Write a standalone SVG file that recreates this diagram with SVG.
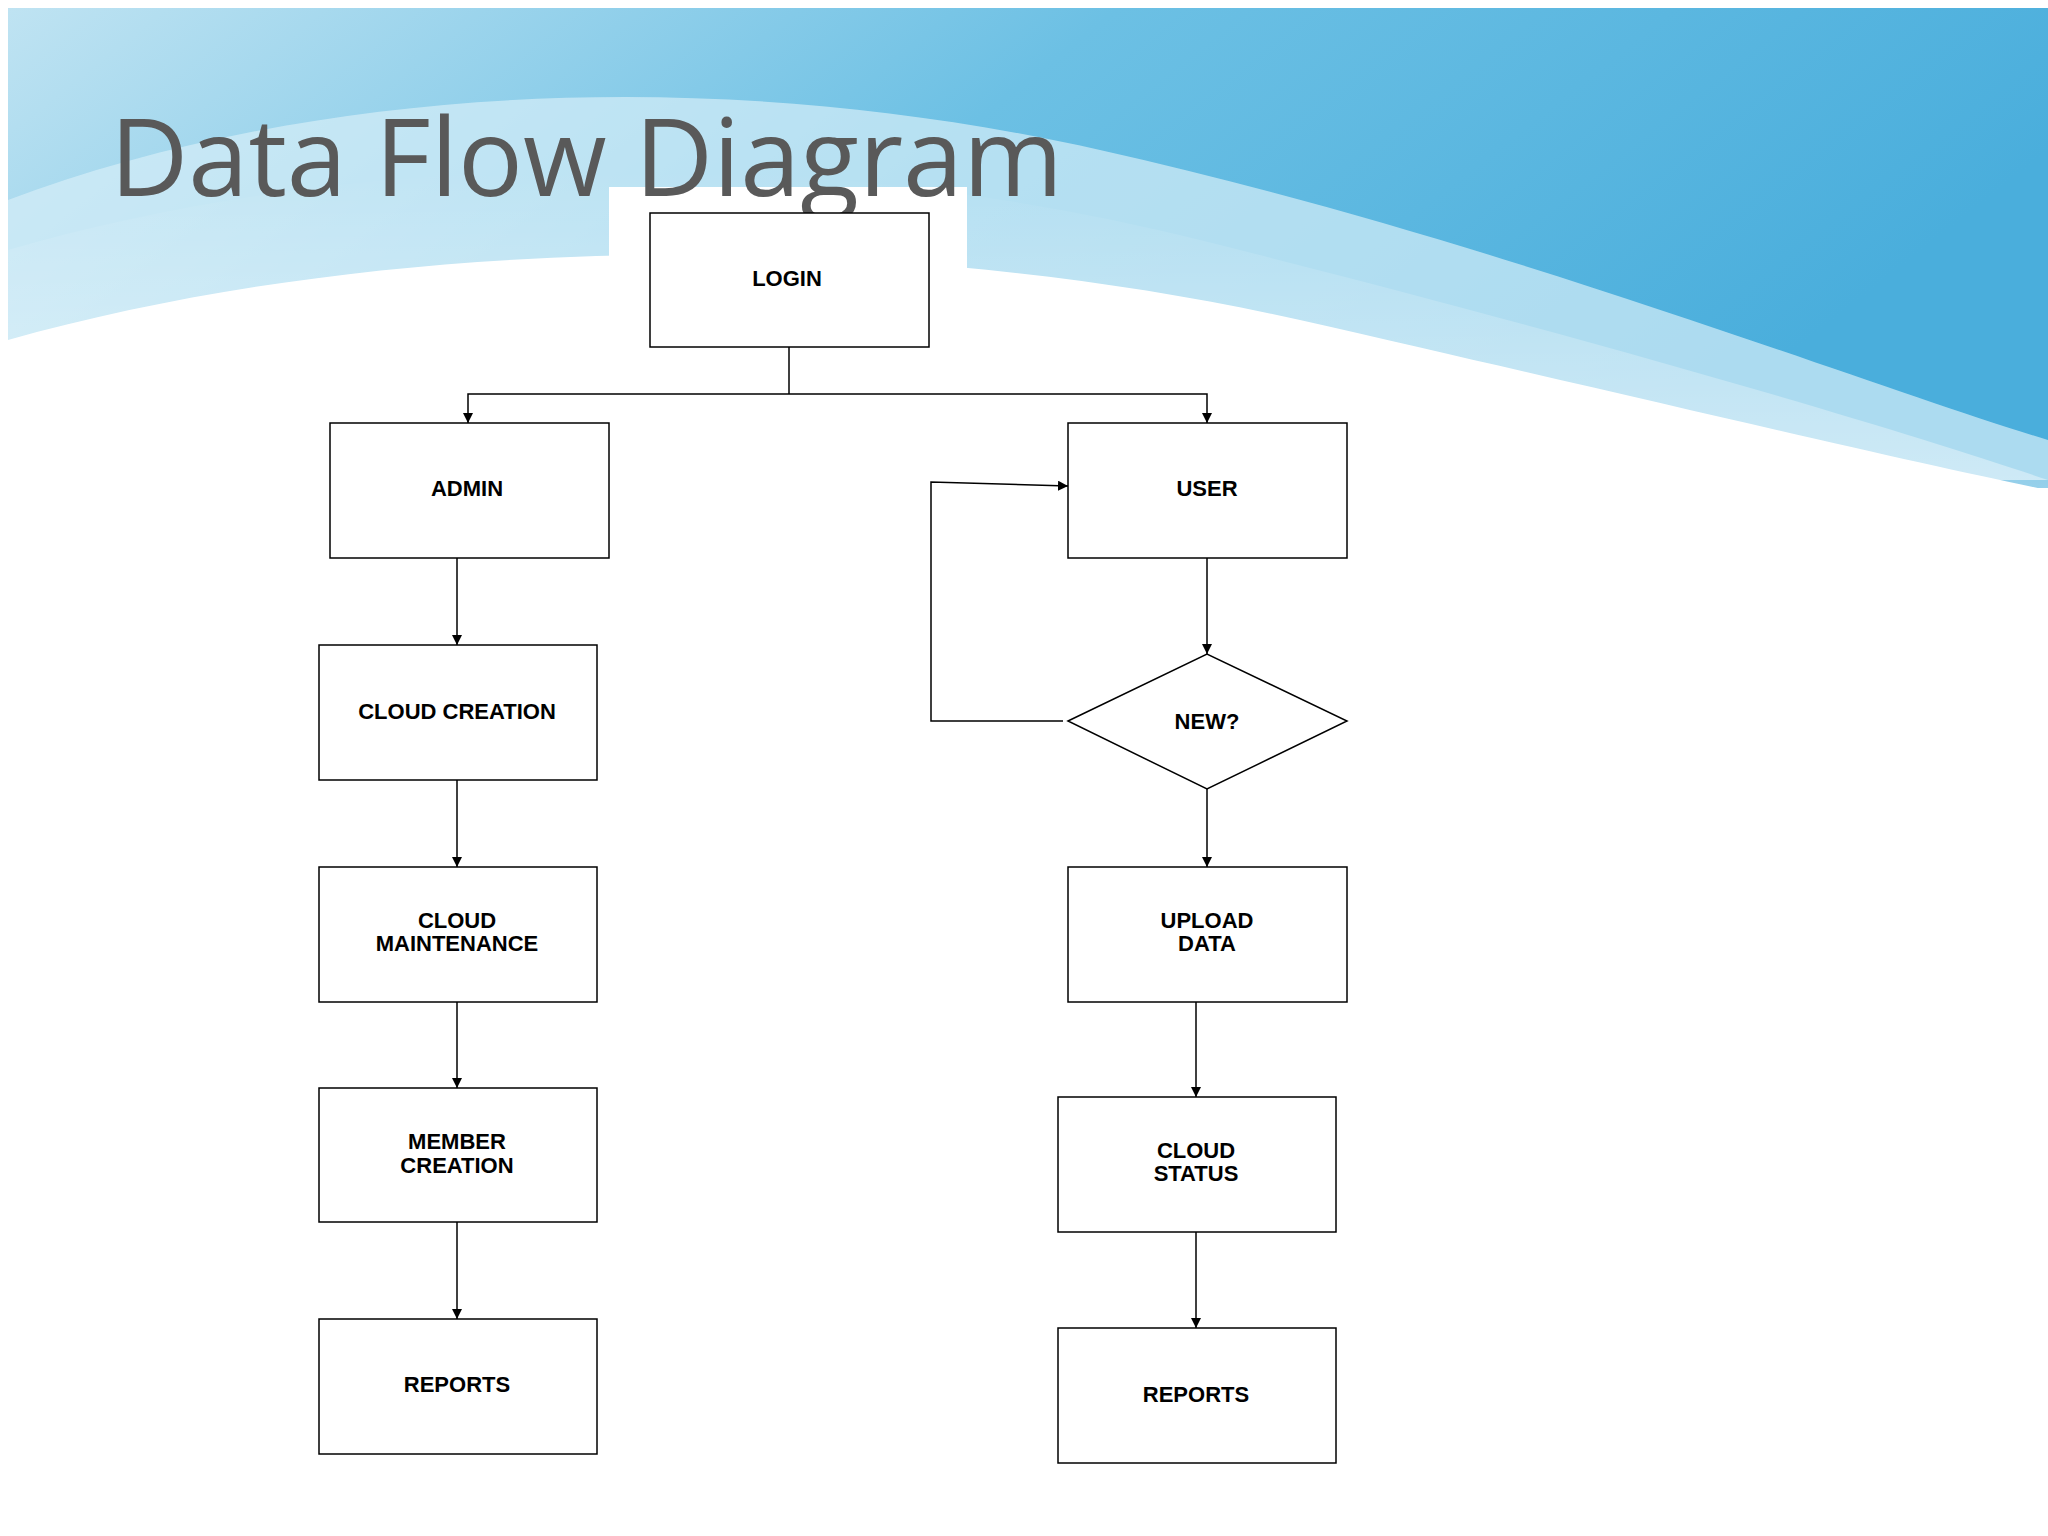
<svg xmlns="http://www.w3.org/2000/svg" width="2048" height="1536" viewBox="0 0 2048 1536">
<defs>
<linearGradient id="sky" x1="0" y1="0" x2="1" y2="0.3">
<stop offset="0" stop-color="#bfe3f2"/>
<stop offset="0.5" stop-color="#6cc0e4"/>
<stop offset="1" stop-color="#4aaedc"/>
</linearGradient>
<linearGradient id="fade" x1="0" y1="0" x2="0" y2="1">
<stop offset="0" stop-color="#ffffff" stop-opacity="0"/>
<stop offset="0.5" stop-color="#ffffff" stop-opacity="0.9"/>
<stop offset="1" stop-color="#ffffff"/>
</linearGradient>
<marker id="ah" viewBox="0 0 10 10" refX="10" refY="5" markerWidth="10" markerHeight="10" markerUnits="userSpaceOnUse" orient="auto">
<path d="M0,0 L10,5 L0,10 Z" fill="#000"/>
</marker>
<style>
.box{fill:#fff;stroke:#000;stroke-width:1.5}
.lbl{font-family:"Liberation Sans",Arial,sans-serif;font-weight:bold;font-size:22px;fill:#000;text-anchor:middle}
.cn{fill:none;stroke:#000;stroke-width:1.5}
.ar{marker-end:url(#ah)}
</style>
</defs>
<rect width="2048" height="1536" fill="#fff"/>
<rect x="8" y="8" width="2040" height="480" fill="url(#sky)"/>
<path d="M8,200 C 300,90 700,60 1100,150 C 1500,240 1850,380 2048,440 L2048,480 L8,480 Z" fill="#d6eef8" opacity="0.7"/>
<path d="M8,250 C 350,150 800,140 1200,240 C 1600,340 1900,430 2048,480 L2048,1536 L8,1536 Z" fill="url(#fade)"/>
<path d="M8,340 C 400,230 900,230 1300,320 C 1650,400 1900,460 2048,490 L2048,1536 L8,1536 Z" fill="#fff"/>
<rect x="609" y="187" width="358" height="94" fill="#fff"/>
<text x="110" y="196" font-family="Open Sans, Liberation Sans, sans-serif" font-size="108" fill="#595959">Data Flow Diagram</text>
<g id="connectors">
<path class="cn" d="M789,347 V394"/>
<path class="cn ar" d="M789,394 H468 V423"/>
<path class="cn ar" d="M789,394 H1207 V423"/>
<path class="cn ar" d="M457,558 V645"/>
<path class="cn ar" d="M457,780 V867"/>
<path class="cn ar" d="M457,1002 V1088"/>
<path class="cn ar" d="M457,1222 V1319"/>
<path class="cn ar" d="M1207,558 V654"/>
<path class="cn ar" d="M1063,721 H931 V482 L1068,486"/>
<path class="cn ar" d="M1207,789 V867"/>
<path class="cn ar" d="M1196,1002 V1097"/>
<path class="cn ar" d="M1196,1232 V1328"/>
</g>
<g id="login"><rect class="box" x="650" y="213" width="279" height="134"/><text class="lbl" x="787" y="286">LOGIN</text></g>
<g id="admin"><rect class="box" x="330" y="423" width="279" height="135"/><text class="lbl" x="467" y="496">ADMIN</text></g>
<g id="user"><rect class="box" x="1068" y="423" width="279" height="135"/><text class="lbl" x="1207" y="496">USER</text></g>
<g id="cloud-creation"><rect class="box" x="319" y="645" width="278" height="135"/><text class="lbl" x="457" y="719">CLOUD CREATION</text></g>
<g id="cloud-maintenance"><rect class="box" x="319" y="867" width="278" height="135"/><text class="lbl" x="457" y="928">CLOUD</text><text class="lbl" x="457" y="951">MAINTENANCE</text></g>
<g id="member-creation"><rect class="box" x="319" y="1088" width="278" height="134"/><text class="lbl" x="457" y="1149">MEMBER</text><text class="lbl" x="457" y="1173">CREATION</text></g>
<g id="reports-left"><rect class="box" x="319" y="1319" width="278" height="135"/><text class="lbl" x="457" y="1392">REPORTS</text></g>
<g id="new"><path class="box" d="M1068,721 L1207,654 L1347,721 L1207,789 Z"/><text class="lbl" x="1207" y="729">NEW?</text></g>
<g id="upload-data"><rect class="box" x="1068" y="867" width="279" height="135"/><text class="lbl" x="1207" y="928">UPLOAD</text><text class="lbl" x="1207" y="951">DATA</text></g>
<g id="cloud-status"><rect class="box" x="1058" y="1097" width="278" height="135"/><text class="lbl" x="1196" y="1158">CLOUD</text><text class="lbl" x="1196" y="1181">STATUS</text></g>
<g id="reports-right"><rect class="box" x="1058" y="1328" width="278" height="135"/><text class="lbl" x="1196" y="1402">REPORTS</text></g>
</svg>
